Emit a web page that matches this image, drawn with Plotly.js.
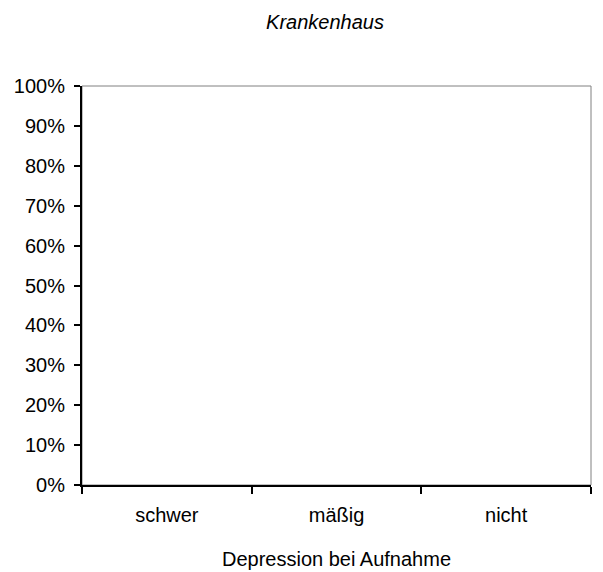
<!DOCTYPE html>
<html>
<head>
<meta charset="utf-8">
<script src="https://cdn.plot.ly/plotly-3.0.1.min.js"></script>
<style>html,body{margin:0;padding:0;background:#fff;}#chart{width:603px;height:572px;}</style>
</head>
<body>
<div id="chart"></div>
<script>
var categories = ["schwer", "mäßig", "nicht"];
var shareValues = [0, 0, 0];
var yTickValues = [0, 0.1, 0.2, 0.3, 0.4, 0.5, 0.6, 0.7, 0.8, 0.9, 1.0];
var yTickLabels = ["0%", "10%", "20%", "30%", "40%", "50%", "60%", "70%", "80%", "90%", "100%"];

var font = "Liberation Sans, Arial, sans-serif";
var data = [{
  type: "bar",
  x: categories,
  y: shareValues,
  marker: {color: "#ffffff", line: {width: 0}},
  hoverinfo: "skip",
  showlegend: false
}];
var layout = {
  width: 603, height: 572,
  margin: {l: 82, r: 12, t: 86, b: 87},
  paper_bgcolor: "#ffffff",
  plot_bgcolor: "#ffffff",
  font: {family: font, size: 20, color: "#000000"},
  title: {text: "<i>Krankenhaus</i>", x: 325 / 603, xanchor: "center", xref: "container",
          y: 1 - 22 / 572, yanchor: "middle", yref: "container",
          font: {family: font, size: 20, color: "#000"}},
  xaxis: {
    type: "category",
    range: [-0.5, 2.5],
    showline: true, linecolor: "#000", linewidth: 2,
    ticks: "outside", tickson: "boundaries", ticklen: 7, tickwidth: 2, tickcolor: "#000",
    showgrid: false, zeroline: false,
    ticklabelstandoff: 11,
    tickfont: {family: font, size: 20, color: "#000"},
    title: {text: "Depression bei Aufnahme", font: {family: font, size: 20, color: "#000"}, standoff: 27}
  },
  yaxis: {
    range: [0, 1],
    tickvals: yTickValues, ticktext: yTickLabels,
    showline: true, linecolor: "#000", linewidth: 2,
    ticks: "outside", ticklen: 6, tickwidth: 2, tickcolor: "#000",
    showgrid: false, zeroline: false,
    ticklabelstandoff: 5,
    tickfont: {family: font, size: 20, color: "#000"}
  },
  shapes: [{
    type: "rect", xref: "paper", yref: "paper", x0: 0, x1: 1, y0: 0, y1: 1,
    line: {color: "#808080", width: 1}, layer: "below"
  }]
};
Plotly.newPlot("chart", data, layout, {staticPlot: true, displayModeBar: false});
</script>
</body>
</html>
